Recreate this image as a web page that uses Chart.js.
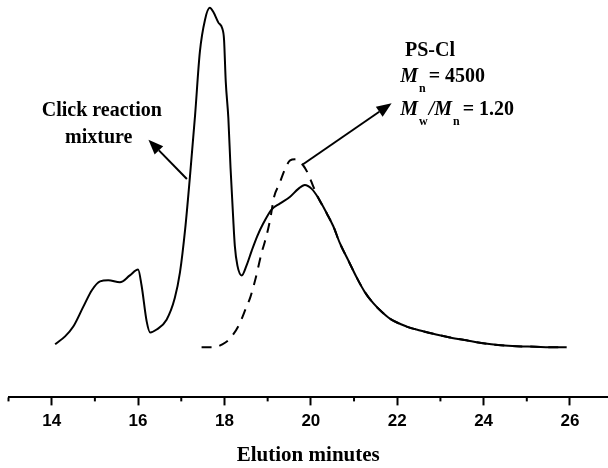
<!DOCTYPE html>
<html>
<head>
<meta charset="utf-8">
<script src="https://cdn.jsdelivr.net/npm/chart.js@4.4.1/dist/chart.umd.min.js"></script>
<style>
  html, body { margin: 0; padding: 0; background: #fff; }
  #wrap { width: 608px; height: 468px; position: relative; }
</style>
</head>
<body>
<div id="wrap"><canvas id="gpc"></canvas></div>
<script>
// Elution time (min) and detector response
const mixTime = [14.08, 14.31, 14.5, 14.73, 14.93, 15.12, 15.31, 15.58, 15.81, 16.0,
    16.08, 16.2, 16.28, 16.43, 16.66, 16.85, 16.97, 17.09, 17.2, 17.32,
    17.43, 17.55, 17.66, 17.74, 17.86, 17.95, 17.99, 18.03, 18.09, 18.14,
    18.2, 18.24, 18.3, 18.4, 18.51, 18.63, 18.76, 18.9, 19.09, 19.28,
    19.52, 19.71, 19.86, 20.02, 20.17, 20.37, 20.52, 20.67, 20.87, 21.06,
    21.25, 21.44, 21.64, 21.83, 22.22, 22.53, 22.9, 23.22, 23.6, 23.99,
    24.4, 24.76, 25.2, 25.53, 25.92];
const mixSignal = [54, 62, 72, 92, 109, 118, 119, 117, 124, 130,
    114, 77, 66, 69, 79, 101, 127, 171, 224, 287,
    351, 384, 396, 392, 381, 375, 364, 321, 284, 234,
    184, 154, 134, 124, 134, 149, 164, 177, 191, 197,
    204, 212, 216, 212, 203, 187, 174, 157, 139, 122,
    107, 96, 87, 80, 72, 68, 64, 61, 58, 55,
    53, 52, 51.5, 51, 51];

const psclTime = [17.47, 17.75, 17.95, 18.13, 18.34, 18.5, 18.6, 18.71, 18.78, 18.86,
    18.94, 19.05, 19.15, 19.27, 19.4, 19.52, 19.63, 19.82, 19.94, 20.06,
    20.17, 20.37, 20.52, 20.67, 20.87, 21.06, 21.25, 21.44, 21.64, 21.83,
    22.22, 22.53, 22.9, 23.22, 23.6, 23.99, 24.4, 24.76, 25.2, 25.53, 25.92];
const psclSignal = [51, 51, 54, 60, 74, 91, 102, 119, 132, 147,
    159, 179, 204, 217, 232, 241, 242, 236, 227, 214,
    203, 187, 174, 157, 139, 122, 107, 96, 87, 80,
    72, 68, 64, 61, 58, 55, 53, 52, 51.5, 51, 51];

const majorTicks = [14, 16, 18, 20, 22, 24, 26];
const minorTicks = [13, 15, 17, 19, 21, 23, 25];

function toPoints(xs, ys) {
    return xs.map((x, i) => ({ x: x, y: ys[i] }));
}

const serif = '"Liberation Serif", "Times New Roman", serif';

// arrows: [tailX, tailY, tipX, tipY] in data units
const arrowMix = [17.13, 222, 16.24, 262];
const arrowPs = [19.82, 237, 21.87, 299];

function drawArrow(ctx, x1, y1, x2, y2) {
    const ang = Math.atan2(y2 - y1, x2 - x1);
    const len = 15, half = 6;
    const bx = x2 - len * Math.cos(ang), by = y2 - len * Math.sin(ang);
    ctx.beginPath();
    ctx.moveTo(x1, y1);
    ctx.lineTo(bx, by);
    ctx.lineWidth = 2;
    ctx.strokeStyle = '#000';
    ctx.stroke();
    ctx.beginPath();
    ctx.moveTo(x2, y2);
    ctx.lineTo(bx + half * Math.sin(ang), by - half * Math.cos(ang));
    ctx.lineTo(bx - half * Math.sin(ang), by + half * Math.cos(ang));
    ctx.closePath();
    ctx.fillStyle = '#000';
    ctx.fill();
}

function drawRich(ctx, x, y, parts) {
    let cx = x;
    parts.forEach(p => {
        ctx.font = p.font;
        cx += p.dx || 0;
        ctx.fillText(p.text, cx, y + (p.dy || 0));
        cx += ctx.measureText(p.text).width;
    });
}

const notesPlugin = {
    id: 'notes',
    afterDraw(chart) {
        const ctx = chart.ctx;
        const xs = chart.scales.x, ys = chart.scales.y;
        const px = v => xs.getPixelForValue(v);
        const py = v => ys.getPixelForValue(v);
        ctx.save();
        // minor ticks
        ctx.strokeStyle = '#000';
        ctx.lineWidth = 2;
        const axisY = chart.chartArea.bottom;
        minorTicks.forEach(t => {
            ctx.beginPath();
            ctx.moveTo(px(t), axisY);
            ctx.lineTo(px(t), axisY + 4);
            ctx.stroke();
        });

        drawArrow(ctx, px(arrowMix[0]), py(arrowMix[1]), px(arrowMix[2]), py(arrowMix[3]));
        drawArrow(ctx, px(arrowPs[0]), py(arrowPs[1]), px(arrowPs[2]), py(arrowPs[3]));

        ctx.fillStyle = '#000';
        ctx.textBaseline = 'middle';
        ctx.textAlign = 'center';
        ctx.font = 'bold 20px ' + serif;
        ctx.fillText('Click reaction', px(15.16), py(291));
        ctx.fillText('mixture', px(15.09), py(264));

        ctx.textAlign = 'left';
        const big = 'bold 20px ' + serif;
        const ital = 'italic bold 20px ' + serif;
        const sub = 'bold 12px ' + serif;
        drawRich(ctx, px(22.18), py(352), [{ text: 'PS-Cl', font: big }]);
        drawRich(ctx, px(22.07), py(326), [
            { text: 'M', font: ital },
            { text: 'n', font: sub, dy: 12, dx: 1 },
            { text: '= 4500', font: big, dx: 3 }
        ]);
        drawRich(ctx, px(22.07), py(292), [
            { text: 'M', font: ital },
            { text: 'w', font: sub, dy: 12, dx: 1 },
            { text: '/', font: ital, dx: 1 },
            { text: 'M', font: ital },
            { text: 'n', font: sub, dy: 12, dx: 1 },
            { text: '= 1.20', font: big, dx: 3 }
        ]);
        ctx.restore();
    }
};

new Chart(document.getElementById('gpc'), {
    type: 'line',
    data: {
        datasets: [
            {
                label: 'Click reaction mixture',
                data: toPoints(mixTime, mixSignal),
                borderColor: '#000',
                borderWidth: 2,
                pointRadius: 0,
                cubicInterpolationMode: 'monotone',
                fill: false
            },
            {
                label: 'PS-Cl',
                data: toPoints(psclTime, psclSignal),
                borderColor: '#000',
                borderWidth: 2,
                borderDash: [10, 8],
                pointRadius: 0,
                cubicInterpolationMode: 'monotone',
                fill: false
            }
        ]
    },
    options: {
        responsive: true,
        maintainAspectRatio: false,
        animation: false,
        layout: { padding: { left: 8.5, right: 0, top: 0, bottom: 0 } },
        plugins: {
            legend: { display: false },
            tooltip: { enabled: false }
        },
        scales: {
            x: {
                type: 'linear',
                min: 13,
                max: 26.88,
                grid: {
                    drawOnChartArea: false,
                    drawTicks: true,
                    tickLength: 8,
                    tickWidth: 2,
                    tickColor: c => (c.tick && majorTicks.includes(c.tick.value)) ? '#000' : 'rgba(0,0,0,0)'
                },
                border: { display: true, color: '#000', width: 2 },
                ticks: {
                    stepSize: 1,
                    autoSkip: false,
                    includeBounds: false,
                    maxRotation: 0,
                    padding: 6,
                    color: '#000',
                    font: { family: '"Liberation Sans", Arial, sans-serif', size: 17, weight: 'bold' },
                    callback: v => majorTicks.includes(v) ? String(v) : ''
                },
                title: {
                    display: true,
                    text: 'Elution minutes',
                    color: '#000',
                    font: { family: serif, size: 21, weight: 'bold' },
                    padding: { top: 5, bottom: 0 }
                }
            },
            y: {
                display: false,
                min: 0,
                max: 404
            }
        }
    },
    plugins: [notesPlugin]
});
</script>
</body>
</html>
